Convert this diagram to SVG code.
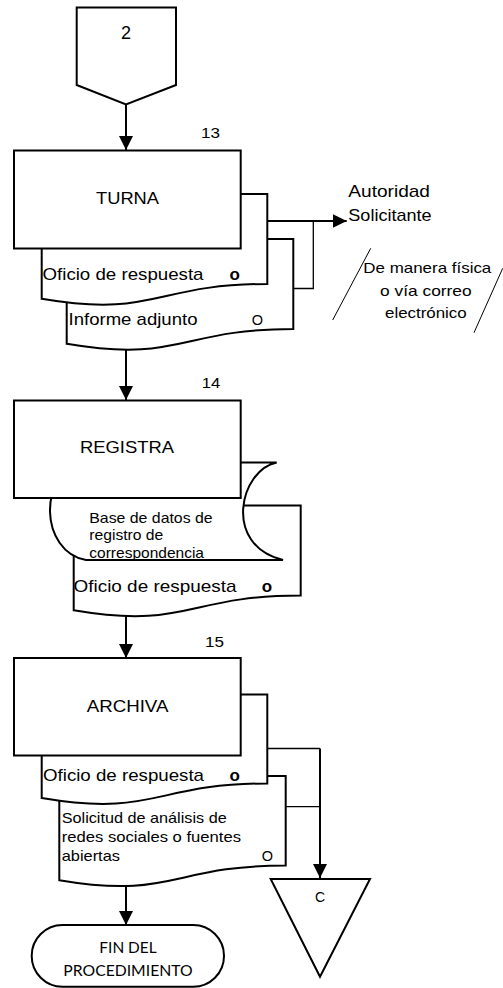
<svg xmlns="http://www.w3.org/2000/svg" width="503" height="988" viewBox="0 0 503 988">
<style>
.s{fill:#fff;stroke:#000;stroke-width:2}
.t{font-family:"Liberation Sans",Arial,sans-serif;fill:#000}
.c{fill:none;stroke:#000;stroke-width:2}
.th{fill:none;stroke:#000;stroke-width:1.3}
.sl{fill:none;stroke:#000;stroke-width:1}
.f{font-family:Lato,"Liberation Sans",sans-serif;fill:#000}
</style>
<defs>
<marker id="ah" markerUnits="userSpaceOnUse" markerWidth="14" markerHeight="14" refX="14" refY="7" orient="auto">
<path d="M0,0 L14,7 L0,14 Z" fill="#000"/>
</marker>
</defs>
<rect width="503" height="988" fill="#fff"/>

<g id="conn-2">
<path class="s" d="M76.7,7.6 H176 V85 L126,104.5 L76.7,85 Z"/>
<text class="t" x="126" y="39" font-size="18" text-anchor="middle">2</text>
</g>

<g id="step13">
<text class="t" x="201" y="137.5" font-size="15" textLength="19" lengthAdjust="spacingAndGlyphs">13</text>
<path class="s" d="M66.7,239 H293.3 V329 C180,329 180,363.2 66.7,343.8 Z"/>
<text class="t" x="68.5" y="325" font-size="17" textLength="129" lengthAdjust="spacingAndGlyphs">Informe adjunto</text>
<text class="t" x="251.7" y="325" font-size="14.5">O</text>
<path class="s" d="M41.7,194 H267.3 V284 C154.5,284 154.5,318.2 41.7,298.8 Z"/>
<text class="t" x="42.5" y="280" font-size="17" textLength="161" lengthAdjust="spacingAndGlyphs">Oficio de respuesta</text>
<text class="t" x="229.5" y="280" font-size="17" font-weight="bold">o</text>
<rect class="s" x="14" y="150.5" width="226.7" height="98"/>
<text class="t" x="96" y="203.5" font-size="17" textLength="63" lengthAdjust="spacingAndGlyphs">TURNA</text>
</g>

<g id="autoridad">
<text class="t" x="348.3" y="197.3" font-size="17" textLength="81.7" lengthAdjust="spacingAndGlyphs">Autoridad</text>
<text class="t" x="348.3" y="220.7" font-size="17" textLength="83.3" lengthAdjust="spacingAndGlyphs">Solicitante</text>
</g>

<g id="medio">
<path class="sl" d="M370.7,248.3 L332.7,320"/>
<path class="sl" d="M502.7,268.3 L474,332.7"/>
<text class="t" x="363.3" y="273.3" font-size="15" textLength="128" lengthAdjust="spacingAndGlyphs">De manera física</text>
<text class="t" x="380" y="296" font-size="15" textLength="91.7" lengthAdjust="spacingAndGlyphs">o vía correo</text>
<text class="t" x="385" y="318.3" font-size="15" textLength="81.7" lengthAdjust="spacingAndGlyphs">electrónico</text>
</g>

<g id="step14">
<text class="t" x="201.7" y="388" font-size="15" textLength="18.5" lengthAdjust="spacingAndGlyphs">14</text>
<path class="s" d="M73.7,505.5 H300.7 V595.5 C187.2,595.5 187.2,629.7 73.7,610.3 Z"/>
<text class="t" x="73.5" y="591.7" font-size="17" textLength="163" lengthAdjust="spacingAndGlyphs">Oficio de respuesta</text>
<text class="t" x="261.7" y="591.7" font-size="17" font-weight="bold">o</text>
<path class="s" d="M86,462.5 H276.7 C240,470 222,545 283,560 H86 C40,552 36,472 86,462.5 Z"/>
<text class="t" x="89.3" y="522.5" font-size="14.5" textLength="123.3" lengthAdjust="spacingAndGlyphs">Base de datos de</text>
<text class="t" x="89.3" y="540" font-size="14.5" textLength="74" lengthAdjust="spacingAndGlyphs">registro de</text>
<text class="t" x="89.3" y="558.3" font-size="14.5" textLength="114.7" lengthAdjust="spacingAndGlyphs">correspondencia</text>
<rect class="s" x="14" y="400.5" width="226.7" height="97.5"/>
<text class="t" x="80" y="452.5" font-size="17" textLength="94" lengthAdjust="spacingAndGlyphs">REGISTRA</text>
</g>

<g id="step15">
<text class="t" x="205" y="646.7" font-size="15" textLength="19" lengthAdjust="spacingAndGlyphs">15</text>
<path class="s" d="M59.3,776 H285.7 V865.5 C172.5,865.5 172.5,899.5 59.3,880.2 Z"/>
<text class="t" x="61.7" y="823.3" font-size="15" textLength="165" lengthAdjust="spacingAndGlyphs">Solicitud de análisis de</text>
<text class="t" x="61.7" y="841.7" font-size="15" textLength="179.3" lengthAdjust="spacingAndGlyphs">redes sociales o fuentes</text>
<text class="t" x="61.7" y="861" font-size="15" textLength="58.3" lengthAdjust="spacingAndGlyphs">abiertas</text>
<text class="t" x="261.7" y="861" font-size="14.5">O</text>
<path class="s" d="M41.7,694.4 H267.3 V783.5 C154.5,783.5 154.5,817.3 41.7,798.1 Z"/>
<text class="t" x="43" y="780.7" font-size="17" textLength="161" lengthAdjust="spacingAndGlyphs">Oficio de respuesta</text>
<text class="t" x="229.5" y="780.7" font-size="17" font-weight="bold">o</text>
<rect class="s" x="14" y="658" width="226.7" height="97.5"/>
<text class="t" x="86.7" y="711.7" font-size="17" textLength="81.7" lengthAdjust="spacingAndGlyphs">ARCHIVA</text>
</g>

<g id="conn-C">
<path class="s" d="M270.7,879 H370 L320,976.7 Z"/>
<text class="t" x="320" y="902" font-size="14" text-anchor="middle">C</text>
</g>

<g id="fin">
<rect class="s" x="31.7" y="925" width="192.3" height="61.7" rx="30.8" ry="30.8"/>
<text class="f" x="128" y="953.3" font-size="16" text-anchor="middle" textLength="57.3" lengthAdjust="spacingAndGlyphs">FIN DEL</text>
<text class="f" x="128" y="976" font-size="16" text-anchor="middle" textLength="129.3" lengthAdjust="spacingAndGlyphs">PROCEDIMIENTO</text>
</g>

<g id="connectors">
<path class="c" d="M126,104.5 V150" marker-end="url(#ah)"/>
<path class="c" d="M126,350 V400" marker-end="url(#ah)"/>
<path class="c" d="M126,616 V658" marker-end="url(#ah)"/>
<path class="c" d="M126,887 V925" marker-end="url(#ah)"/>
<path class="c" d="M267.3,221 H346.7" marker-end="url(#ah)"/>
<path class="th" d="M293.3,288.5 H313.3 V221"/>
<path class="th" d="M267.3,748.5 H320"/>
<path class="th" d="M285.7,806.6 H320"/>
<path class="c" d="M320,748.5 V878" marker-end="url(#ah)"/>
</g>
</svg>
